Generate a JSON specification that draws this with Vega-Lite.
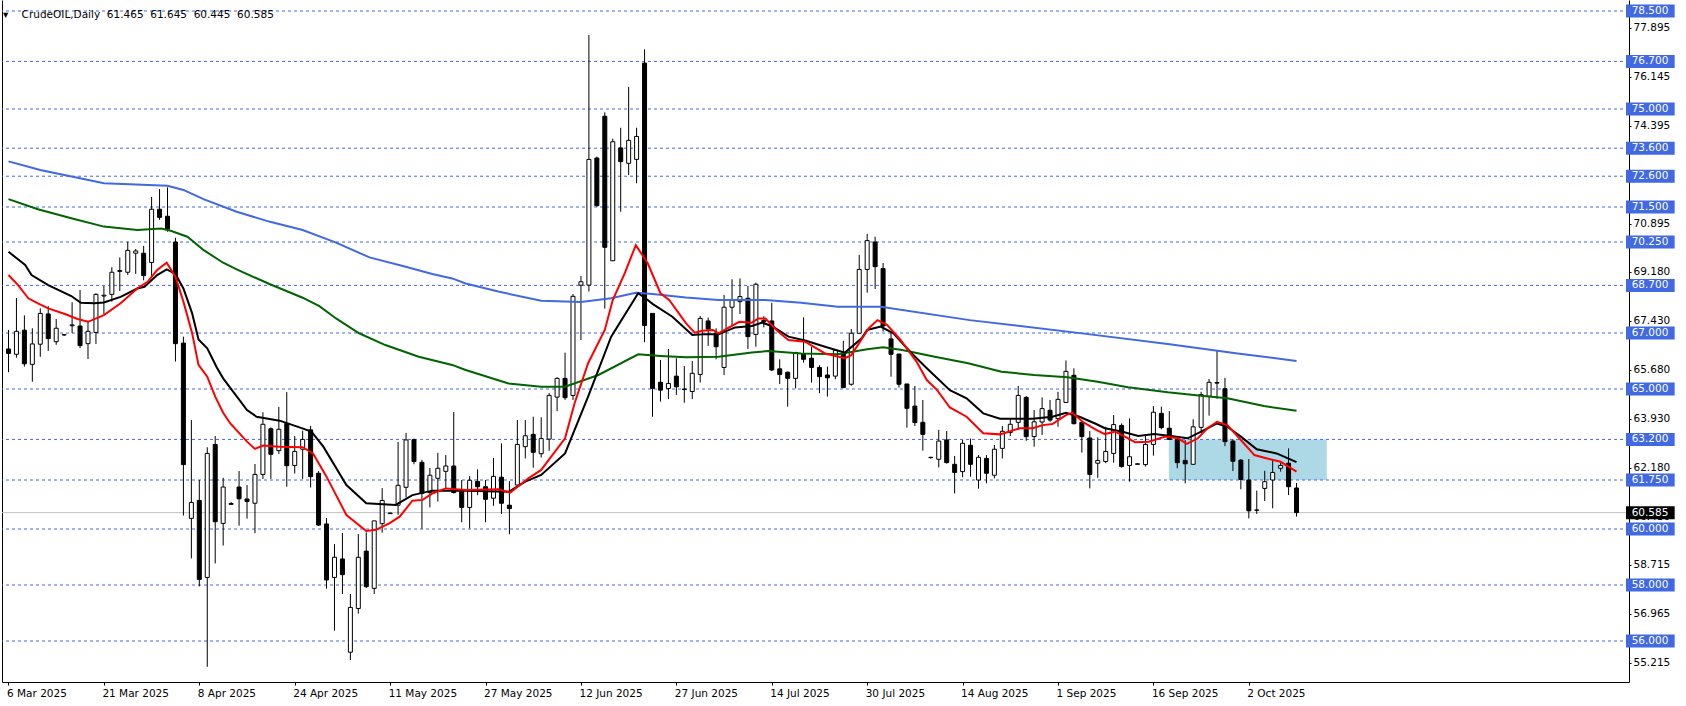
{
  "$schema": "https://vega.github.io/schema/vega-lite/v6.json",
  "width": 1627,
  "height": 682,
  "autosize": {"type": "none"},
  "padding": {"left": 2, "top": 0, "right": 57, "bottom": 24},
  "background": "white",
  "config": {"view": {"stroke": null}, "font": "DejaVu Sans"},
  "title": {"text": "▾\u00a0\u00a0\u00a0\u00a0CrudeOIL,Daily\u00a0\u00a061.465\u00a0\u00a061.645\u00a0\u00a060.445\u00a0\u00a060.585", "anchor": "start", "frame": "group", "orient": "top", "offset": -25, "baseline": "middle", "dx": 1, "font": "DejaVu Sans", "fontSize": 10.5, "fontWeight": "normal", "color": "black"},
  "resolve": {"axis": {"x": "independent", "y": "independent"}},
  "datasets": {
    "candles": [
      {"i":0,"o":66.43,"h":67.11,"l":65.60,"c":66.27},
      {"i":1,"o":66.24,"h":68.25,"l":66.12,"c":67.06},
      {"i":2,"o":67.10,"h":67.63,"l":65.80,"c":65.90},
      {"i":3,"o":65.88,"h":67.17,"l":65.26,"c":66.61},
      {"i":4,"o":66.60,"h":67.88,"l":66.15,"c":67.70},
      {"i":5,"o":67.68,"h":67.96,"l":66.36,"c":66.80},
      {"i":6,"o":66.69,"h":67.50,"l":66.58,"c":67.17},
      {"i":7,"o":66.93,"h":66.96,"l":66.90,"c":66.94},
      {"i":8,"o":67.26,"h":68.10,"l":67.00,"c":67.29},
      {"i":9,"o":67.25,"h":68.54,"l":66.46,"c":66.55},
      {"i":10,"o":66.62,"h":67.43,"l":66.07,"c":67.06},
      {"i":11,"o":67.02,"h":68.42,"l":66.61,"c":68.38},
      {"i":12,"o":68.32,"h":68.68,"l":67.68,"c":68.35},
      {"i":13,"o":68.38,"h":69.35,"l":68.12,"c":69.17},
      {"i":14,"o":69.20,"h":69.70,"l":68.50,"c":69.23},
      {"i":15,"o":69.17,"h":70.26,"l":69.07,"c":69.95},
      {"i":16,"o":69.85,"h":70.00,"l":69.11,"c":69.93},
      {"i":17,"o":69.85,"h":70.11,"l":68.88,"c":69.05},
      {"i":18,"o":69.52,"h":71.86,"l":69.04,"c":71.42},
      {"i":19,"o":71.42,"h":72.14,"l":71.04,"c":71.13},
      {"i":20,"o":71.17,"h":72.20,"l":70.62,"c":70.71},
      {"i":21,"o":70.25,"h":70.40,"l":65.98,"c":66.62},
      {"i":22,"o":66.64,"h":66.87,"l":60.48,"c":62.30},
      {"i":23,"o":60.38,"h":63.89,"l":58.95,"c":60.95},
      {"i":24,"o":61.02,"h":61.75,"l":57.95,"c":58.20},
      {"i":25,"o":58.27,"h":62.92,"l":55.08,"c":62.70},
      {"i":26,"o":63.02,"h":63.32,"l":58.77,"c":60.26},
      {"i":27,"o":60.20,"h":61.83,"l":59.41,"c":61.50},
      {"i":28,"o":60.88,"h":60.96,"l":60.86,"c":60.91},
      {"i":29,"o":61.50,"h":62.07,"l":60.12,"c":61.08},
      {"i":30,"o":61.07,"h":61.57,"l":60.37,"c":60.98},
      {"i":31,"o":60.92,"h":62.32,"l":59.85,"c":61.95},
      {"i":32,"o":61.95,"h":64.17,"l":61.79,"c":63.74},
      {"i":33,"o":63.58,"h":63.63,"l":61.79,"c":62.67},
      {"i":34,"o":62.80,"h":64.36,"l":62.68,"c":63.56},
      {"i":35,"o":63.77,"h":64.89,"l":61.51,"c":62.26},
      {"i":36,"o":62.27,"h":63.32,"l":61.98,"c":62.77},
      {"i":37,"o":62.85,"h":63.51,"l":61.79,"c":63.20},
      {"i":38,"o":63.54,"h":63.68,"l":61.48,"c":61.87},
      {"i":39,"o":61.99,"h":62.07,"l":60.11,"c":60.14},
      {"i":40,"o":60.18,"h":60.39,"l":57.87,"c":58.18},
      {"i":41,"o":58.27,"h":59.46,"l":56.37,"c":58.99},
      {"i":42,"o":58.93,"h":59.86,"l":57.68,"c":58.37},
      {"i":43,"o":55.60,"h":57.68,"l":55.32,"c":57.20},
      {"i":44,"o":57.16,"h":59.82,"l":56.98,"c":58.99},
      {"i":45,"o":59.21,"h":59.88,"l":57.89,"c":57.94},
      {"i":46,"o":57.88,"h":60.29,"l":57.68,"c":60.29},
      {"i":47,"o":60.19,"h":61.46,"l":59.87,"c":61.02},
      {"i":48,"o":60.55,"h":60.58,"l":60.54,"c":60.57},
      {"i":49,"o":60.85,"h":63.11,"l":60.51,"c":61.56},
      {"i":50,"o":61.49,"h":63.43,"l":61.13,"c":63.18},
      {"i":51,"o":63.19,"h":63.23,"l":62.31,"c":62.41},
      {"i":52,"o":62.38,"h":62.47,"l":60.01,"c":61.27},
      {"i":53,"o":61.30,"h":62.18,"l":60.77,"c":61.92},
      {"i":54,"o":61.81,"h":62.72,"l":60.98,"c":62.17},
      {"i":55,"o":62.06,"h":62.64,"l":61.45,"c":62.25},
      {"i":56,"o":62.25,"h":64.18,"l":61.27,"c":61.30},
      {"i":57,"o":61.33,"h":61.75,"l":60.24,"c":60.77},
      {"i":58,"o":60.77,"h":61.89,"l":60.02,"c":61.74},
      {"i":59,"o":61.70,"h":62.13,"l":61.21,"c":61.51},
      {"i":60,"o":61.51,"h":61.75,"l":60.24,"c":61.06},
      {"i":61,"o":61.10,"h":62.54,"l":60.83,"c":61.88},
      {"i":62,"o":61.85,"h":63.06,"l":60.54,"c":60.92},
      {"i":63,"o":60.85,"h":61.71,"l":59.81,"c":60.73},
      {"i":64,"o":61.57,"h":63.89,"l":61.54,"c":63.02},
      {"i":65,"o":62.94,"h":63.89,"l":62.52,"c":63.33},
      {"i":66,"o":63.38,"h":64.01,"l":62.19,"c":62.74},
      {"i":67,"o":62.69,"h":63.99,"l":62.55,"c":63.23},
      {"i":68,"o":63.21,"h":64.86,"l":62.79,"c":64.77},
      {"i":69,"o":64.71,"h":65.42,"l":64.21,"c":65.38},
      {"i":70,"o":65.38,"h":66.30,"l":64.61,"c":64.69},
      {"i":71,"o":64.77,"h":68.39,"l":64.61,"c":68.31},
      {"i":72,"o":68.71,"h":69.04,"l":66.75,"c":68.83},
      {"i":73,"o":68.71,"h":77.64,"l":68.48,"c":73.20},
      {"i":74,"o":73.25,"h":73.30,"l":71.50,"c":71.55},
      {"i":75,"o":74.74,"h":74.88,"l":67.87,"c":70.06},
      {"i":76,"o":69.58,"h":73.94,"l":69.57,"c":73.83},
      {"i":77,"o":73.61,"h":74.33,"l":71.33,"c":73.12},
      {"i":78,"o":73.06,"h":75.79,"l":72.64,"c":73.88},
      {"i":79,"o":73.20,"h":74.33,"l":72.35,"c":74.02},
      {"i":80,"o":76.64,"h":77.13,"l":66.67,"c":67.27},
      {"i":81,"o":67.70,"h":67.70,"l":64.01,"c":65.02},
      {"i":82,"o":65.24,"h":66.04,"l":64.55,"c":64.96},
      {"i":83,"o":65.02,"h":66.43,"l":64.64,"c":65.20},
      {"i":84,"o":65.46,"h":66.10,"l":64.79,"c":65.08},
      {"i":85,"o":65.00,"h":65.82,"l":64.51,"c":64.98},
      {"i":86,"o":64.91,"h":66.00,"l":64.64,"c":65.56},
      {"i":87,"o":65.52,"h":67.61,"l":65.23,"c":67.52},
      {"i":88,"o":67.43,"h":67.55,"l":66.54,"c":67.14},
      {"i":89,"o":66.99,"h":67.17,"l":66.06,"c":66.51},
      {"i":90,"o":65.77,"h":68.36,"l":65.50,"c":67.92},
      {"i":91,"o":67.92,"h":68.92,"l":67.23,"c":68.18},
      {"i":92,"o":68.12,"h":68.95,"l":67.68,"c":68.30},
      {"i":93,"o":68.24,"h":68.68,"l":66.43,"c":66.87},
      {"i":94,"o":66.95,"h":68.80,"l":66.51,"c":68.74},
      {"i":95,"o":67.45,"h":67.60,"l":67.20,"c":67.40},
      {"i":96,"o":67.43,"h":68.08,"l":65.64,"c":65.68},
      {"i":97,"o":65.72,"h":66.06,"l":65.18,"c":65.52},
      {"i":98,"o":65.60,"h":65.62,"l":64.37,"c":65.38},
      {"i":99,"o":65.38,"h":66.33,"l":65.02,"c":66.30},
      {"i":100,"o":66.25,"h":67.56,"l":65.94,"c":66.06},
      {"i":101,"o":66.10,"h":66.51,"l":65.23,"c":65.77},
      {"i":102,"o":65.77,"h":65.85,"l":64.85,"c":65.44},
      {"i":103,"o":65.50,"h":65.80,"l":64.73,"c":65.40},
      {"i":104,"o":65.46,"h":66.42,"l":65.35,"c":66.39},
      {"i":105,"o":66.27,"h":66.72,"l":65.05,"c":65.05},
      {"i":106,"o":65.17,"h":67.14,"l":65.12,"c":66.99},
      {"i":107,"o":66.99,"h":69.79,"l":66.99,"c":69.27},
      {"i":108,"o":69.27,"h":70.54,"l":68.44,"c":70.30},
      {"i":109,"o":70.25,"h":70.44,"l":68.57,"c":69.37},
      {"i":110,"o":69.30,"h":69.50,"l":67.05,"c":67.25},
      {"i":111,"o":66.79,"h":67.01,"l":65.44,"c":66.24},
      {"i":112,"o":66.25,"h":66.25,"l":65.05,"c":65.17},
      {"i":113,"o":65.18,"h":65.18,"l":63.62,"c":64.31},
      {"i":114,"o":64.39,"h":65.11,"l":63.68,"c":63.80},
      {"i":115,"o":63.81,"h":64.61,"l":62.80,"c":63.38},
      {"i":116,"o":62.55,"h":62.58,"l":62.51,"c":62.56},
      {"i":117,"o":62.49,"h":63.54,"l":62.20,"c":63.14},
      {"i":118,"o":63.18,"h":63.50,"l":62.34,"c":62.37},
      {"i":119,"o":62.31,"h":62.61,"l":61.27,"c":62.02},
      {"i":120,"o":62.05,"h":63.18,"l":61.85,"c":63.06},
      {"i":121,"o":62.99,"h":63.23,"l":61.87,"c":62.31},
      {"i":122,"o":61.75,"h":62.64,"l":61.44,"c":62.56},
      {"i":123,"o":62.52,"h":62.64,"l":61.63,"c":61.99},
      {"i":124,"o":61.92,"h":63.00,"l":61.81,"c":62.85},
      {"i":125,"o":62.88,"h":63.68,"l":62.52,"c":63.49},
      {"i":126,"o":63.45,"h":63.92,"l":63.32,"c":63.74},
      {"i":127,"o":63.81,"h":65.11,"l":63.54,"c":64.77},
      {"i":128,"o":64.70,"h":64.75,"l":63.15,"c":63.30},
      {"i":129,"o":63.30,"h":64.25,"l":62.94,"c":63.83},
      {"i":130,"o":63.82,"h":64.70,"l":63.36,"c":64.30},
      {"i":131,"o":64.24,"h":64.61,"l":63.83,"c":63.89},
      {"i":132,"o":63.94,"h":64.90,"l":63.65,"c":64.63},
      {"i":133,"o":64.52,"h":66.02,"l":64.52,"c":65.63},
      {"i":134,"o":65.49,"h":65.74,"l":63.74,"c":63.76},
      {"i":135,"o":63.81,"h":63.81,"l":62.73,"c":63.30},
      {"i":136,"o":63.25,"h":63.50,"l":61.45,"c":61.95},
      {"i":137,"o":62.35,"h":63.27,"l":61.83,"c":62.45},
      {"i":138,"o":62.41,"h":63.65,"l":62.35,"c":62.77},
      {"i":139,"o":62.70,"h":64.07,"l":62.37,"c":63.73},
      {"i":140,"o":63.70,"h":63.77,"l":62.19,"c":62.23},
      {"i":141,"o":62.27,"h":63.95,"l":61.69,"c":62.58},
      {"i":142,"o":62.31,"h":62.35,"l":62.30,"c":62.33},
      {"i":143,"o":62.30,"h":63.38,"l":62.23,"c":63.02},
      {"i":144,"o":63.02,"h":64.39,"l":62.62,"c":64.17},
      {"i":145,"o":64.13,"h":64.37,"l":63.56,"c":63.62},
      {"i":146,"o":63.60,"h":64.21,"l":63.18,"c":63.20},
      {"i":147,"o":63.20,"h":63.30,"l":62.17,"c":62.37},
      {"i":148,"o":62.45,"h":63.18,"l":61.63,"c":62.33},
      {"i":149,"o":62.31,"h":63.92,"l":62.29,"c":63.65},
      {"i":150,"o":63.63,"h":64.90,"l":63.42,"c":64.80},
      {"i":151,"o":64.74,"h":65.36,"l":64.05,"c":65.24},
      {"i":152,"o":65.23,"h":66.39,"l":64.65,"c":65.21},
      {"i":153,"o":65.01,"h":65.40,"l":62.96,"c":63.12},
      {"i":154,"o":63.14,"h":63.20,"l":62.07,"c":62.42},
      {"i":155,"o":62.46,"h":62.49,"l":61.42,"c":61.77},
      {"i":156,"o":61.75,"h":62.50,"l":60.38,"c":60.65},
      {"i":157,"o":60.68,"h":61.37,"l":60.54,"c":60.67},
      {"i":158,"o":61.45,"h":62.08,"l":61.00,"c":61.69},
      {"i":159,"o":61.75,"h":62.46,"l":60.74,"c":62.02},
      {"i":160,"o":62.17,"h":62.36,"l":62.05,"c":62.27},
      {"i":161,"o":62.35,"h":62.88,"l":61.21,"c":61.51},
      {"i":162,"o":61.465,"h":61.645,"l":60.445,"c":60.585}
    ],
    "ma": [
      {"s":"blue","i":0,"v":73.13},{"s":"blue","i":4,"v":72.82},{"s":"blue","i":12,"v":72.35},{"s":"blue","i":20,"v":72.26},{"s":"blue","i":22,"v":72.11},{"s":"blue","i":24.6,"v":71.77},{"s":"blue","i":28.7,"v":71.33},{"s":"blue","i":32.9,"v":70.97},{"s":"blue","i":37,"v":70.68},{"s":"blue","i":41.2,"v":70.23},{"s":"blue","i":45.4,"v":69.7},{"s":"blue","i":49.6,"v":69.39},{"s":"blue","i":53.3,"v":69.11},{"s":"blue","i":55.8,"v":68.95},{"s":"blue","i":57.5,"v":68.77},{"s":"blue","i":61.6,"v":68.48},{"s":"blue","i":67,"v":68.15},{"s":"blue","i":72,"v":68.11},{"s":"blue","i":75.8,"v":68.24},{"s":"blue","i":78.9,"v":68.44},{"s":"blue","i":81,"v":68.39},{"s":"blue","i":85.2,"v":68.27},{"s":"blue","i":89.3,"v":68.18},{"s":"blue","i":95.2,"v":68.18},{"s":"blue","i":99.7,"v":68.08},{"s":"blue","i":104.3,"v":67.94},{"s":"blue","i":109.7,"v":67.94},{"s":"blue","i":120.9,"v":67.46},{"s":"blue","i":135.8,"v":66.96},{"s":"blue","i":145.8,"v":66.61},{"s":"blue","i":154.6,"v":66.27},{"s":"blue","i":162,"v":66.0},
      {"s":"green","i":0,"v":71.78},{"s":"green","i":3.7,"v":71.42},{"s":"green","i":7.9,"v":71.1},{"s":"green","i":12,"v":70.8},{"s":"green","i":16.2,"v":70.68},{"s":"green","i":19.2,"v":70.73},{"s":"green","i":20.4,"v":70.65},{"s":"green","i":22.5,"v":70.44},{"s":"green","i":24.6,"v":69.95},{"s":"green","i":27,"v":69.51},{"s":"green","i":28.7,"v":69.27},{"s":"green","i":32.9,"v":68.74},{"s":"green","i":37,"v":68.26},{"s":"green","i":39.1,"v":67.96},{"s":"green","i":41.2,"v":67.52},{"s":"green","i":44.1,"v":66.99},{"s":"green","i":47.4,"v":66.57},{"s":"green","i":51.6,"v":66.15},{"s":"green","i":55.8,"v":65.86},{"s":"green","i":57.5,"v":65.68},{"s":"green","i":62.9,"v":65.2},{"s":"green","i":67,"v":65.08},{"s":"green","i":70,"v":65.08},{"s":"green","i":74.2,"v":65.5},{"s":"green","i":79.2,"v":66.24},{"s":"green","i":82,"v":66.18},{"s":"green","i":85.2,"v":66.13},{"s":"green","i":89.3,"v":66.15},{"s":"green","i":93.5,"v":66.3},{"s":"green","i":95.6,"v":66.36},{"s":"green","i":99.7,"v":66.27},{"s":"green","i":104.3,"v":66.24},{"s":"green","i":108,"v":66.42},{"s":"green","i":110,"v":66.49},{"s":"green","i":112.4,"v":66.39},{"s":"green","i":116.5,"v":66.15},{"s":"green","i":120.7,"v":65.92},{"s":"green","i":124.9,"v":65.62},{"s":"green","i":129,"v":65.5},{"s":"green","i":133.2,"v":65.42},{"s":"green","i":137,"v":65.26},{"s":"green","i":140.8,"v":65.06},{"s":"green","i":145.8,"v":64.88},{"s":"green","i":150,"v":64.76},{"s":"green","i":153.3,"v":64.67},{"s":"green","i":157.9,"v":64.39},{"s":"green","i":162,"v":64.22},
      {"s":"black","i":0,"v":69.9},{"s":"black","i":2.1,"v":69.43},{"s":"black","i":2.9,"v":69.07},{"s":"black","i":5,"v":68.71},{"s":"black","i":7.9,"v":68.32},{"s":"black","i":9.1,"v":68.08},{"s":"black","i":10.8,"v":68.06},{"s":"black","i":12,"v":68.09},{"s":"black","i":14.1,"v":68.29},{"s":"black","i":16.2,"v":68.59},{"s":"black","i":17.1,"v":68.65},{"s":"black","i":18.7,"v":69.07},{"s":"black","i":19.9,"v":69.27},{"s":"black","i":21,"v":69.11},{"s":"black","i":22,"v":68.59},{"s":"black","i":23.1,"v":67.7},{"s":"black","i":23.9,"v":66.77},{"s":"black","i":25,"v":66.45},{"s":"black","i":26.2,"v":65.77},{"s":"black","i":27,"v":65.38},{"s":"black","i":30,"v":64.25},{"s":"black","i":31.2,"v":64.01},{"s":"black","i":34.1,"v":63.87},{"s":"black","i":36.6,"v":63.63},{"s":"black","i":38.1,"v":63.48},{"s":"black","i":39.6,"v":62.94},{"s":"black","i":42.5,"v":61.57},{"s":"black","i":45,"v":60.92},{"s":"black","i":48.7,"v":60.86},{"s":"black","i":50.8,"v":61.21},{"s":"black","i":53.3,"v":61.37},{"s":"black","i":57.5,"v":61.37},{"s":"black","i":62.9,"v":61.33},{"s":"black","i":65,"v":61.69},{"s":"black","i":67,"v":61.93},{"s":"black","i":70,"v":62.7},{"s":"black","i":72.9,"v":64.73},{"s":"black","i":75.8,"v":66.87},{"s":"black","i":79.2,"v":68.42},{"s":"black","i":80.4,"v":68.18},{"s":"black","i":81,"v":68.04},{"s":"black","i":83.5,"v":67.58},{"s":"black","i":86,"v":66.93},{"s":"black","i":87.7,"v":66.96},{"s":"black","i":89.3,"v":66.96},{"s":"black","i":91.4,"v":67.2},{"s":"black","i":93.5,"v":67.25},{"s":"black","i":94.8,"v":67.37},{"s":"black","i":96,"v":67.25},{"s":"black","i":98.1,"v":66.87},{"s":"black","i":100.2,"v":66.73},{"s":"black","i":102.7,"v":66.51},{"s":"black","i":105.2,"v":66.3},{"s":"black","i":107.3,"v":66.81},{"s":"black","i":108,"v":67.11},{"s":"black","i":109.7,"v":67.23},{"s":"black","i":111.3,"v":66.99},{"s":"black","i":113.4,"v":66.33},{"s":"black","i":115.5,"v":65.74},{"s":"black","i":118.4,"v":64.96},{"s":"black","i":120.5,"v":64.67},{"s":"black","i":122.6,"v":64.13},{"s":"black","i":124.7,"v":63.94},{"s":"black","i":126.8,"v":63.94},{"s":"black","i":128.8,"v":63.94},{"s":"black","i":131.3,"v":64.01},{"s":"black","i":133,"v":64.15},{"s":"black","i":134.7,"v":64.01},{"s":"black","i":136.8,"v":63.75},{"s":"black","i":137.9,"v":63.6},{"s":"black","i":140,"v":63.48},{"s":"black","i":142.1,"v":63.32},{"s":"black","i":144.1,"v":63.39},{"s":"black","i":146.2,"v":63.32},{"s":"black","i":148.3,"v":63.24},{"s":"black","i":150,"v":63.48},{"s":"black","i":152,"v":63.77},{"s":"black","i":153.3,"v":63.65},{"s":"black","i":155,"v":63.3},{"s":"black","i":157,"v":62.85},{"s":"black","i":159.5,"v":62.7},{"s":"black","i":162,"v":62.39},
      {"s":"red","i":0,"v":69.07},{"s":"red","i":1.2,"v":68.71},{"s":"red","i":2.5,"v":68.24},{"s":"red","i":3.7,"v":68.06},{"s":"red","i":5,"v":67.88},{"s":"red","i":7.1,"v":67.68},{"s":"red","i":8.7,"v":67.5},{"s":"red","i":10,"v":67.4},{"s":"red","i":12,"v":67.64},{"s":"red","i":14.1,"v":68.06},{"s":"red","i":16.2,"v":68.59},{"s":"red","i":17.5,"v":68.83},{"s":"red","i":18.7,"v":69.25},{"s":"red","i":19.9,"v":69.51},{"s":"red","i":21,"v":69.01},{"s":"red","i":22,"v":68.12},{"s":"red","i":23.1,"v":66.99},{"s":"red","i":23.9,"v":65.86},{"s":"red","i":25,"v":65.44},{"s":"red","i":26,"v":64.73},{"s":"red","i":27,"v":64.15},{"s":"red","i":27.9,"v":63.77},{"s":"red","i":30,"v":63.12},{"s":"red","i":31,"v":62.86},{"s":"red","i":32,"v":62.98},{"s":"red","i":34.1,"v":62.94},{"s":"red","i":37,"v":62.92},{"s":"red","i":38.3,"v":62.7},{"s":"red","i":40,"v":61.87},{"s":"red","i":42.5,"v":60.5},{"s":"red","i":45,"v":59.93},{"s":"red","i":46.2,"v":59.97},{"s":"red","i":47.9,"v":60.2},{"s":"red","i":49.2,"v":60.44},{"s":"red","i":50.8,"v":61.01},{"s":"red","i":52.1,"v":61.04},{"s":"red","i":53.3,"v":61.27},{"s":"red","i":55,"v":61.45},{"s":"red","i":57.5,"v":61.39},{"s":"red","i":61.6,"v":61.42},{"s":"red","i":63.1,"v":61.3},{"s":"red","i":65.4,"v":61.81},{"s":"red","i":67,"v":62.11},{"s":"red","i":70,"v":63.24},{"s":"red","i":71.2,"v":64.49},{"s":"red","i":72.9,"v":65.92},{"s":"red","i":75,"v":67.11},{"s":"red","i":76,"v":68.18},{"s":"red","i":77.5,"v":69.13},{"s":"red","i":78.9,"v":70.14},{"s":"red","i":80.4,"v":69.49},{"s":"red","i":82,"v":68.42},{"s":"red","i":83.1,"v":68.18},{"s":"red","i":85.2,"v":67.35},{"s":"red","i":86.3,"v":67.01},{"s":"red","i":87.3,"v":67.08},{"s":"red","i":88.6,"v":67.11},{"s":"red","i":89.3,"v":66.99},{"s":"red","i":91.9,"v":67.4},{"s":"red","i":93.5,"v":67.37},{"s":"red","i":94.3,"v":67.52},{"s":"red","i":95.2,"v":67.52},{"s":"red","i":96.8,"v":67.05},{"s":"red","i":98.1,"v":66.75},{"s":"red","i":100.2,"v":66.69},{"s":"red","i":102.7,"v":66.27},{"s":"red","i":105.2,"v":66.1},{"s":"red","i":106,"v":66.21},{"s":"red","i":108.2,"v":67.17},{"s":"red","i":109.3,"v":67.46},{"s":"red","i":110.5,"v":67.29},{"s":"red","i":112.2,"v":66.75},{"s":"red","i":114.2,"v":65.98},{"s":"red","i":115.5,"v":65.32},{"s":"red","i":116.8,"v":64.96},{"s":"red","i":118.4,"v":64.34},{"s":"red","i":120.5,"v":64.01},{"s":"red","i":122.6,"v":63.42},{"s":"red","i":124.7,"v":63.38},{"s":"red","i":125.9,"v":63.48},{"s":"red","i":127.2,"v":63.6},{"s":"red","i":128.8,"v":63.6},{"s":"red","i":130.1,"v":63.71},{"s":"red","i":131.3,"v":63.75},{"s":"red","i":133,"v":64.07},{"s":"red","i":133.8,"v":64.15},{"s":"red","i":135.1,"v":63.83},{"s":"red","i":136.8,"v":63.54},{"s":"red","i":137.9,"v":63.39},{"s":"red","i":139.2,"v":63.48},{"s":"red","i":140,"v":63.36},{"s":"red","i":141.7,"v":63.1},{"s":"red","i":143.4,"v":63.12},{"s":"red","i":145.5,"v":63.3},{"s":"red","i":147.1,"v":63.24},{"s":"red","i":148.2,"v":63.04},{"s":"red","i":149.6,"v":63.24},{"s":"red","i":150.8,"v":63.6},{"s":"red","i":152,"v":63.83},{"s":"red","i":153.3,"v":63.71},{"s":"red","i":155,"v":63.18},{"s":"red","i":156.7,"v":62.64},{"s":"red","i":158.3,"v":62.52},{"s":"red","i":160,"v":62.4},{"s":"red","i":162,"v":62.05}
    ],
    "tags": [
      {"level":78.5,"kind":"level"},{"level":76.7,"kind":"level"},{"level":75.0,"kind":"level"},{"level":73.6,"kind":"level"},{"level":72.6,"kind":"level"},{"level":71.5,"kind":"level"},{"level":70.25,"kind":"level"},{"level":68.7,"kind":"level"},{"level":67.0,"kind":"level"},{"level":65.0,"kind":"level"},{"level":63.2,"kind":"level"},{"level":61.75,"kind":"level"},{"level":60.0,"kind":"level"},{"level":58.0,"kind":"level"},{"level":56.0,"kind":"level"},{"level":60.585,"kind":"last"}
    ],
    "zone": [{"from":145.94,"to":165.8,"lo":61.75,"hi":63.2}]
  },
  "layer": [
    {
      "data": {"name": "zone"},
      "mark": {"type": "rect", "color": "#ADD8E6"},
      "encoding": {
        "x": {"field": "from", "type": "quantitative", "scale": {"domain": [-0.1875, 203.1875], "nice": false, "zero": false},
          "axis": {"orient": "bottom", "title": null, "grid": false, "values": [0, 12, 24, 36, 48, 60, 72, 84, 96, 108, 120, 132, 144, 156],
            "labelExpr": "datum.value == 0 ? '6 Mar 2025' : datum.value == 12 ? '21 Mar 2025' : datum.value == 24 ? '8 Apr 2025' : datum.value == 36 ? '24 Apr 2025' : datum.value == 48 ? '11 May 2025' : datum.value == 60 ? '27 May 2025' : datum.value == 72 ? '12 Jun 2025' : datum.value == 84 ? '27 Jun 2025' : datum.value == 96 ? '14 Jul 2025' : datum.value == 108 ? '30 Jul 2025' : datum.value == 120 ? '14 Aug 2025' : datum.value == 132 ? '1 Sep 2025' : datum.value == 144 ? '16 Sep 2025' : '2 Oct 2025'",
            "labelAlign": "left", "labelBaseline": "top", "labelPadding": 3, "labelOffset": -2, "labelFlush": false, "labelOverlap": false,
            "labelFont": "DejaVu Sans", "labelFontSize": 10.5, "labelColor": "black", "tickSize": 3, "tickColor": "black", "domainColor": "black"}},
        "x2": {"field": "to"},
        "y": {"field": "lo", "type": "quantitative", "scale": {"domain": [54.536, 78.893], "nice": false, "zero": false}, "axis": null},
        "y2": {"field": "hi"}
      }
    },
    {
      "data": {"name": "tags"},
      "transform": [{"filter": "datum.kind == 'level'"}],
      "mark": {"type": "rule", "color": "#4169E1", "strokeWidth": 1, "strokeDash": [3, 3]},
      "encoding": {
        "y": {"field": "level", "type": "quantitative", "scale": {"domain": [54.536, 78.893], "nice": false, "zero": false}, "axis": null}
      }
    },
    {
      "data": {"name": "tags"},
      "transform": [{"filter": "datum.kind == 'last'"}],
      "mark": {"type": "rule", "color": "#C0C0C0", "strokeWidth": 1},
      "encoding": {
        "y": {"field": "level", "type": "quantitative", "scale": {"domain": [54.536, 78.893], "nice": false, "zero": false},
          "axis": {"orient": "left", "labels": false, "ticks": false, "grid": false, "title": null, "domain": true, "domainColor": "black", "domainWidth": 1}}
      }
    },
    {
      "data": {"name": "candles"},
      "mark": {"type": "rule", "color": "black", "strokeWidth": 1},
      "encoding": {
        "x": {"field": "i", "type": "quantitative", "scale": {"domain": [-0.1875, 203.1875], "nice": false, "zero": false}, "axis": null},
        "y": {"field": "l", "type": "quantitative", "scale": {"domain": [54.536, 78.893], "nice": false, "zero": false},
          "axis": {"orient": "right", "title": null, "grid": false, "values": [77.895, 76.145, 74.395, 70.895, 69.18, 67.43, 65.68, 63.93, 62.18, 60.43, 58.715, 56.965, 55.215],
            "format": ".3f", "labelAlign": "left", "labelBaseline": "middle", "labelPadding": 2, "labelFlush": false, "labelOverlap": false,
            "labelFont": "DejaVu Sans", "labelFontSize": 10.5, "labelColor": "black", "tickSize": 2, "tickColor": "black", "domainColor": "black"}},
        "y2": {"field": "h"}
      }
    },
    {
      "data": {"name": "candles"},
      "mark": {"type": "bar", "size": 4, "stroke": "black", "strokeWidth": 1},
      "encoding": {
        "x": {"field": "i", "type": "quantitative", "scale": {"domain": [-0.1875, 203.1875], "nice": false, "zero": false}, "axis": null},
        "y": {"field": "o", "type": "quantitative", "scale": {"domain": [54.536, 78.893], "nice": false, "zero": false}, "axis": null},
        "y2": {"field": "c"},
        "fill": {"condition": {"test": "datum.c >= datum.o", "value": "white"}, "value": "black"}
      }
    },
    {
      "data": {"name": "ma"},
      "mark": {"type": "line", "strokeWidth": 2},
      "encoding": {
        "x": {"field": "i", "type": "quantitative", "scale": {"domain": [-0.1875, 203.1875], "nice": false, "zero": false}, "axis": null},
        "y": {"field": "v", "type": "quantitative", "scale": {"domain": [54.536, 78.893], "nice": false, "zero": false}, "axis": null},
        "color": {"field": "s", "type": "nominal", "scale": {"domain": ["blue", "green", "black", "red"], "range": ["#4169E1", "#006400", "#000000", "#FF0000"]}, "legend": null}
      }
    },
    {
      "data": {"name": "tags"},
      "mark": {"type": "rect", "height": 13},
      "encoding": {
        "x": {"datum": 203.44, "type": "quantitative", "scale": {"domain": [-0.1875, 203.1875], "nice": false, "zero": false}, "axis": null},
        "x2": {"datum": 209.56},
        "y": {"field": "level", "type": "quantitative", "scale": {"domain": [54.536, 78.893], "nice": false, "zero": false}, "axis": null},
        "fill": {"condition": {"test": "datum.kind == 'last'", "value": "black"}, "value": "#4169E1"}
      }
    },
    {
      "data": {"name": "tags"},
      "mark": {"type": "text", "align": "left", "baseline": "middle", "color": "white", "font": "DejaVu Sans", "fontSize": 10.5},
      "encoding": {
        "x": {"datum": 204.15, "type": "quantitative", "scale": {"domain": [-0.1875, 203.1875], "nice": false, "zero": false}, "axis": null},
        "y": {"field": "level", "type": "quantitative", "scale": {"domain": [54.536, 78.893], "nice": false, "zero": false}, "axis": null},
        "text": {"field": "level", "type": "quantitative", "format": ".3f"}
      }
    }
  ]
}
